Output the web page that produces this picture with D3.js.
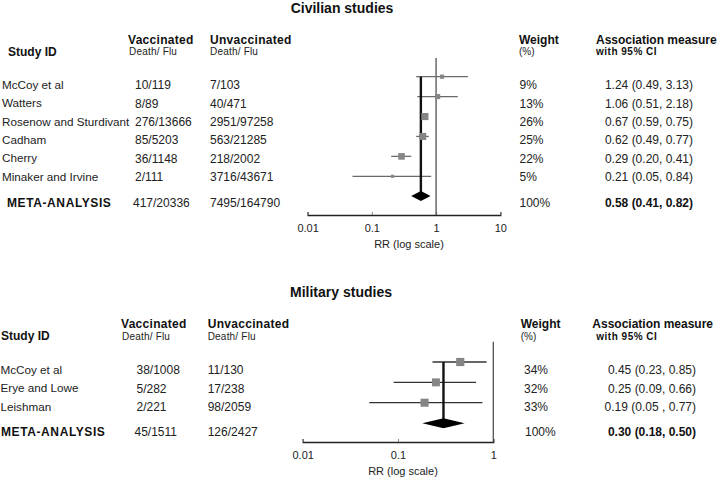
<!DOCTYPE html>
<html><head><meta charset="utf-8">
<script src="https://cdn.jsdelivr.net/npm/d3@7"></script>
<style>
body{margin:0;background:#fff;}
svg text{font-family:Arial,"Liberation Sans",sans-serif;fill:#222;}
</style></head>
<body><svg id="c" width="720" height="478"></svg>
<script>
// ---- Civilian studies data ----
const civStudies = ["McCoy et al","Watters","Rosenow and Sturdivant","Cadham","Cherry","Minaker and Irvine"];
const civVacc = ["10/119","8/89","276/13666","85/5203","36/1148","2/111"];
const civUnvacc = ["7/103","40/471","2951/97258","563/21285","218/2002","3716/43671"];
const civWeight = [9,13,26,25,22,5];
const civRR = [1.24,1.06,0.67,0.62,0.29,0.21];
const civLo = [0.49,0.51,0.59,0.49,0.20,0.05];
const civHi = [3.13,2.18,0.75,0.77,0.41,0.84];
const civMeta = {vacc:"417/20336", unvacc:"7495/164790", weight:100, rr:0.58, lo:0.41, hi:0.82};
const civTicks = [0.01,0.1,1,10];
const civTickLabels = ["0.01","0.1","1","10"];

// ---- Military studies data ----
const milStudies = ["McCoy et al","Erye and Lowe","Leishman"];
const milVacc = ["38/1008","5/282","2/221"];
const milUnvacc = ["11/130","17/238","98/2059"];
const milWeight = [34,32,33];
const milRR = [0.45,0.25,0.19];
const milLo = [0.23,0.09,0.05];
const milHi = [0.85,0.66,0.77];
const milCI = ["0.45 (0.23, 0.85)","0.25 (0.09, 0.66)","0.19 (0.05 , 0.77)"];
const milMeta = {vacc:"45/1511", unvacc:"126/2427", weight:100, rr:0.30, lo:0.18, hi:0.50};
const milTicks = [0.01,0.1,1];
const milTickLabels = ["0.01","0.1","1"];

const fmt = d3.format(".2f");
const svg = d3.select("#c");

function panel(cfg){
  const g = svg.append("g");
  const n = cfg.studies.length;
  const x = d3.scaleLog().domain(cfg.domain).range(cfg.xRange);
  const yText = d3.scalePoint().domain(d3.range(n)).range(cfg.textRange);
  const yMark = d3.scalePoint().domain(d3.range(n)).range(cfg.markRange);
  const size = d3.scaleSqrt().domain([0,35]).range([0,cfg.maxSize]);

  // title
  g.append("text").attr("x",cfg.titleX).attr("y",cfg.titleY).attr("dy","0.35em")
    .attr("text-anchor","middle").attr("font-size",14).attr("font-weight","bold")
    .style("fill","#111").text(cfg.title);

  // headers
  const H = cfg.head;
  const y2 = H.y1 + 12;
  g.append("text").attr("x",H.idX).attr("y",y2).attr("dy","0.35em").attr("font-size",12)
    .attr("font-weight","bold").style("fill","#111").text("Study ID");
  g.append("text").attr("x",H.vX).attr("y",H.y1).attr("dy","0.35em").attr("font-size",12)
    .attr("font-weight","bold").style("letter-spacing","0.3px").style("fill","#111").text("Vaccinated");
  g.append("text").attr("x",H.vX+1).attr("y",y2).attr("dy","0.35em").attr("font-size",10).style("letter-spacing","0.2px").text("Death/ Flu");
  g.append("text").attr("x",H.uX).attr("y",H.y1).attr("dy","0.35em").attr("font-size",12)
    .attr("font-weight","bold").style("letter-spacing","0.3px").style("fill","#111").text("Unvaccinated");
  g.append("text").attr("x",H.uX).attr("y",y2).attr("dy","0.35em").attr("font-size",10).style("letter-spacing","0.2px").text("Death/ Flu");
  g.append("text").attr("x",H.wX).attr("y",H.y1).attr("dy","0.35em").attr("font-size",12)
    .attr("font-weight","bold").style("fill","#111").text("Weight");
  g.append("text").attr("x",H.wX).attr("y",y2).attr("dy","0.35em").attr("font-size",10).text("(%)");
  g.append("text").attr("x",H.aX).attr("y",H.y1).attr("dy","0.35em").attr("font-size",12)
    .attr("font-weight","bold").style("fill","#111").text("Association measure");
  g.append("text").attr("x",H.aX+H.ciOff).attr("y",y2).attr("dy","0.35em").attr("font-size",10)
    .attr("font-weight","bold").style("letter-spacing","0.5px").style("fill","#111").text("with 95%  CI");

  // rows
  const rows = g.selectAll("g.row").data(d3.range(n)).join("g").attr("class","row");
  const C = cfg.cols;
  rows.append("text").attr("x",C.name).attr("y",i=>yText(i)).attr("dy","0.35em").attr("font-size",11.7).text(i=>cfg.studies[i]);
  rows.append("text").attr("x",C.vacc).attr("y",i=>yText(i)).attr("dy","0.35em").attr("font-size",12).text(i=>cfg.vacc[i]);
  rows.append("text").attr("x",C.unvacc).attr("y",i=>yText(i)).attr("dy","0.35em").attr("font-size",12).text(i=>cfg.unvacc[i]);
  rows.append("text").attr("x",C.weight).attr("y",i=>yText(i)).attr("dy","0.35em").attr("font-size",12).text(i=>cfg.weight[i]+"%");
  rows.append("text").attr("x",C.ciEnd).attr("y",i=>yText(i)).attr("dy","0.35em").attr("text-anchor","end")
    .attr("font-size",12).text(i=>cfg.ciText ? cfg.ciText[i] : `${fmt(cfg.rr[i])} (${fmt(cfg.lo[i])}, ${fmt(cfg.hi[i])})`);

  // meta row text
  const M = cfg.meta;
  g.append("text").attr("x",C.metaName).attr("y",cfg.metaTextY).attr("dy","0.35em").attr("font-size",12)
    .attr("font-weight","bold").style("letter-spacing","0.6px").style("fill","#111").text("META-ANALYSIS");
  g.append("text").attr("x",C.vacc-2).attr("y",cfg.metaTextY).attr("dy","0.35em").attr("font-size",12).text(M.vacc);
  g.append("text").attr("x",C.unvacc).attr("y",cfg.metaTextY).attr("dy","0.35em").attr("font-size",12).text(M.unvacc);
  g.append("text").attr("x",C.metaWeight).attr("y",cfg.metaTextY).attr("dy","0.35em").attr("font-size",12).text(M.weight+"%");
  g.append("text").attr("x",C.ciEnd).attr("y",cfg.metaTextY).attr("dy","0.35em").attr("text-anchor","end")
    .attr("font-size",12).attr("font-weight","bold").style("fill","#111")
    .text(`${fmt(M.rr)} (${fmt(M.lo)}, ${fmt(M.hi)})`);

  // axis
  const axis = d3.axisBottom(x).tickValues(cfg.ticks).tickFormat((d,i)=>cfg.tickLabels[i])
    .tickSize(-3).tickSizeOuter(-3).tickPadding(9);
  const ag = g.append("g").attr("transform",`translate(0,${cfg.axisY})`).call(axis);
  ag.select(".domain").attr("stroke","#222").attr("stroke-width",1.3);
  ag.selectAll(".tick line").attr("stroke","#888");
  ag.selectAll(".tick text").attr("font-size",11).style("fill","#222").attr("font-family","Arial,'Liberation Sans',sans-serif");
  g.append("text").attr("x",cfg.rrX).attr("y",cfg.axisY+29).attr("dy","0.35em").attr("text-anchor","middle")
    .attr("font-size",11).text("RR (log scale)");

  // no-effect line at 1
  g.append("line").attr("x1",x(1)).attr("x2",x(1)).attr("y1",cfg.refTop).attr("y2",cfg.axisY)
    .attr("stroke","#444").attr("stroke-width",1.2);

  // CI lines
  g.selectAll("line.ci").data(d3.range(n)).join("line").attr("class","ci")
    .attr("x1",i=>x(cfg.lo[i])).attr("x2",i=>x(cfg.hi[i]))
    .attr("y1",i=>yMark(i)).attr("y2",i=>yMark(i))
    .attr("stroke",cfg.ciColor).attr("stroke-width",1.3);

  // meta vertical line
  g.append("line").attr("x1",x(M.rr)).attr("x2",x(M.rr)).attr("y1",yMark(0)).attr("y2",cfg.metaMarkY)
    .attr("stroke","#111").attr("stroke-width",2.4);

  // squares
  g.selectAll("rect.pt").data(d3.range(n)).join("rect").attr("class","pt")
    .attr("x",i=>x(cfg.rr[i])-size(cfg.weight[i])/2)
    .attr("y",i=>yMark(i)-size(cfg.weight[i])/2)
    .attr("width",i=>size(cfg.weight[i])).attr("height",i=>size(cfg.weight[i]))
    .attr("fill","#858585");

  // diamond
  const dy = cfg.diamondH/2;
  g.append("path").attr("d",`M${x(M.lo)},${cfg.metaMarkY}L${x(M.rr)},${cfg.metaMarkY-dy}L${x(M.hi)},${cfg.metaMarkY}L${x(M.rr)},${cfg.metaMarkY+dy}Z`)
    .attr("fill","#000");
}

panel({
  title:"Civilian studies", titleX:342, titleY:8,
  studies:civStudies, vacc:civVacc, unvacc:civUnvacc, weight:civWeight,
  rr:civRR, lo:civLo, hi:civHi, meta:civMeta,
  domain:[0.01,10], xRange:[307.6,500.3], ticks:civTicks, tickLabels:civTickLabels,
  textRange:[85,176.7], markRange:[76.7,176.3], metaTextY:203, metaMarkY:196,
  maxSize:8.3, diamondH:10, ciColor:"#6a6a6a",
  head:{y1:39.5,idX:8,vX:128,uX:210,wX:519,aX:596,ciOff:0},
  cols:{name:2,metaName:7,vacc:135,unvacc:210,weight:519.5,metaWeight:519.5,ciEnd:693},
  axisY:215, rrX:409, refTop:58
});

panel({
  title:"Military studies", titleX:341, titleY:292,
  studies:milStudies, vacc:milVacc, unvacc:milUnvacc, weight:milWeight,
  rr:milRR, lo:milLo, hi:milHi, meta:milMeta, ciText:milCI,
  domain:[0.01,1], xRange:[302.7,493.3], ticks:milTicks, tickLabels:milTickLabels,
  textRange:[370,406.7], markRange:[362,402.7], metaTextY:431.5, metaMarkY:423.3,
  maxSize:8.3, diamondH:10, ciColor:"#333",
  head:{y1:324,idX:1,vX:121,uX:207.7,wX:520.7,aX:592.3,ciOff:4},
  cols:{name:0.5,metaName:1,vacc:136.5,unvacc:207.7,weight:524,metaWeight:525,ciEnd:696},
  axisY:442, rrX:403, refTop:341.7
});
</script></body></html>
